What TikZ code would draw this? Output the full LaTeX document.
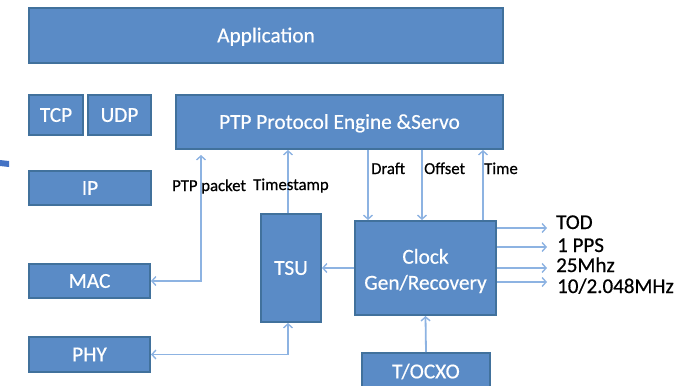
\documentclass[tikz,border=0pt]{standalone}
\usepackage{fontspec}
\setmainfont{Carlito}[FakeBold=0.6]
\newfontfamily\boxfont{Carlito}[FakeBold=0.5]
\usetikzlibrary{arrows.meta,calc}
\definecolor{boxfill}{HTML}{5A8BC6}
\definecolor{boxline}{HTML}{41719C}
\definecolor{link}{HTML}{8DB3E2}
\definecolor{accentblue}{HTML}{4472C4}
\tikzset{
  blkbase/.style={draw=boxline, fill=boxfill, line width=2pt, inner sep=0pt,
    text=white, font=\boxfont\fontsize{21.3}{26}\selectfont},
  blk/.style={blkbase, text height=13.7pt, text depth=0pt},
  boxtext/.style={text=white, font=\boxfont\fontsize{21.3}{26}\selectfont,
    align=center, inner sep=0pt},
  conn/.style={draw=link, line width=1.8pt,
    arrows={-Straight Barb[length=4pt,width=9pt,line width=1.4pt]}},
  both/.style={conn, arrows={Straight Barb[length=4pt,width=9pt,line width=1.4pt]-Straight Barb[length=4pt,width=9pt,line width=1.4pt]}},
  lbl/.style={font=\fontsize{16.7}{18}\selectfont, inner sep=0pt, anchor=base west},
  outlbl/.style={font=\fontsize{21}{22}\selectfont, inner sep=0pt, anchor=base west}
}
\begin{document}
\begin{tikzpicture}[x=1pt,y=-1pt]
\useasboundingbox (0,0) rectangle (681,386);
\clip (0,0) rectangle (681,386);

% small accent mark on the left edge
\fill[accentblue] (0,160) -- (9,161) -- (9,167) -- (0,166) -- cycle;

% protocol stack blocks
\node[blk, minimum width=474pt, minimum height=55pt] (app) at (266,35.5) {Application};
\node[blk, minimum width=54pt, minimum height=40pt] (tcp) at (56,115) {TCP};
\node[blk, minimum width=63pt, minimum height=40pt] (udp) at (119.5,115) {UDP};
\node[blk, minimum width=327pt, minimum height=54pt] (ptp) at (339.5,122) {PTP Protocol Engine \&Servo};
\node[blk, minimum width=122pt, minimum height=34pt] (ip) at (90,188) {IP};
\node[blk, minimum width=121pt, minimum height=34pt] (mac) at (89.5,281) {MAC};
\node[blk, minimum width=121pt, minimum height=35pt] (phy) at (89.5,354.5) {PHY};
\node[blk, minimum width=60pt, minimum height=108pt] (tsu) at (291,268) {TSU};
\node[blkbase, minimum width=141pt, minimum height=94pt] (clk) at (425.5,268) {};
\node[boxtext] (clktext) at (425.5,271) {Clock\\Gen/Recovery};
\node[blk, minimum width=128pt, minimum height=47pt, text depth=10pt] (ocxo) at (426,376.5) {T/OCXO};

% packet and timestamp paths
\draw[both, shorten >=5pt] (mac.east) -| ([xshift=26pt]ptp.south west);
\draw[conn] ([xshift=-3pt]tsu.north) -- ([xshift=-3pt]tsu.north |- ptp.south);
\draw[both] (phy.east) -| ([xshift=-3pt]tsu.south);
\draw[conn] (clk.west) -- (tsu.east);

% servo control lines
\draw[conn] ([xshift=14pt]clk.north west |- ptp.south) -- ([xshift=14pt]clk.north west);
\draw[conn] ([xshift=-3.5pt]clk.north |- ptp.south) -- ([xshift=-3.5pt]clk.north);
\draw[conn] ([xshift=-14pt]clk.north east) -- ([xshift=-14pt]clk.north east |- ptp.south);

% oscillator feed
\draw[conn] (ocxo.north) -- (clk.south);

% clock outputs
\coordinate (o1) at (547,228);
\coordinate (o2) at (547,247);
\coordinate (o3) at (547,268);
\coordinate (o4) at (547,282);
\draw[conn] (clk.east |- o1) -- (o1);
\draw[conn] (clk.east |- o2) -- (o2);
\draw[conn] (clk.east |- o3) -- (o3);
\draw[conn] (clk.east |- o4) -- (o4);

% labels
\node[lbl] (lpkt) at (172,191) {PTP packet};
\node[lbl] (lts) at (253,190) {Timestamp};
\node[lbl] (ldr) at (371,174) {Draft};
\node[lbl] (loff) at (424,174) {Offset};
\node[lbl] (ltime) at (484,174) {Time};
\node[outlbl] (ltod) at (556,229) {TOD};
\node[outlbl] (lpps) at (557,252) {1 PPS};
\node[outlbl] (l25) at (556,272) {25Mhz};
\node[outlbl] (l10) at (557,293) {10/2.048MHz};
\end{tikzpicture}
\end{document}
